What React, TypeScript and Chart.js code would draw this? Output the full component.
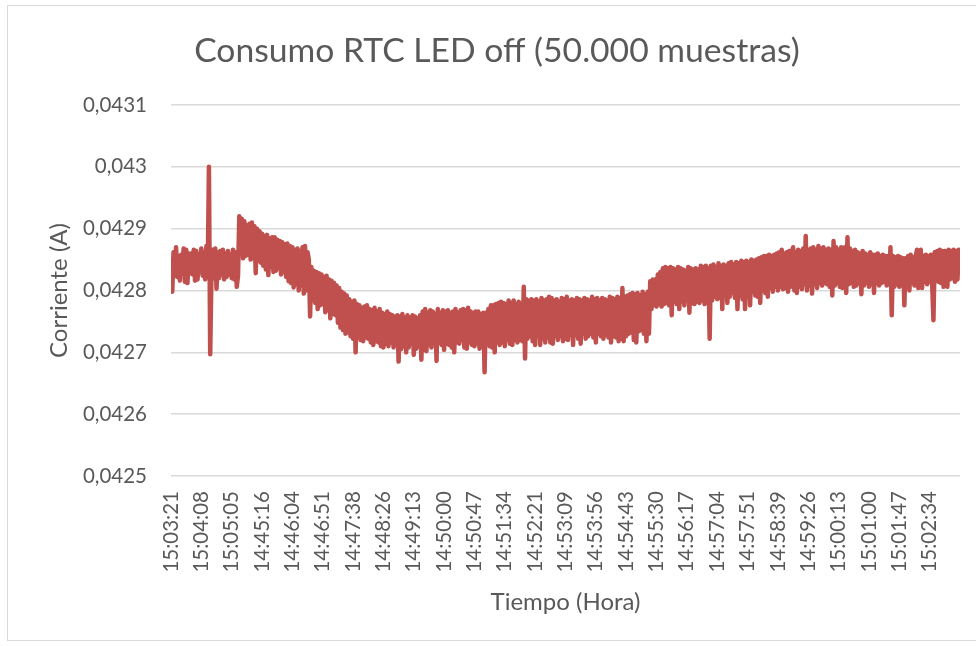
import { useEffect, useRef } from 'react';
import { Chart, registerables } from 'chart.js';

Chart.register(...registerables);

const chartTitle = 'Consumo RTC LED off (50.000 muestras)';
const yAxisTitle = 'Corriente (A)';
const xAxisTitle = 'Tiempo (Hora)';

const timeLabels = [
  '15:03:21', '15:04:08', '15:05:05', '14:45:16', '14:46:04', '14:46:51', '14:47:38',
  '14:48:26', '14:49:13', '14:50:00', '14:50:47', '14:51:34', '14:52:21', '14:53:09',
  '14:53:56', '14:54:43', '14:55:30', '14:56:17', '14:57:04', '14:57:51', '14:58:39',
  '14:59:26', '15:00:13', '15:01:00', '15:01:47', '15:02:34',
];

const yTickValues = [0.0425, 0.0426, 0.0427, 0.0428, 0.0429, 0.043, 0.0431];

// Corriente (A), muestras (orden temporal)
const corriente = [
  0.042848, 0.042798, 0.042862, 0.042824, 0.042870, 0.042822, 0.042856, 0.042816, 0.042858, 0.042830,
  0.042868, 0.042814, 0.042866, 0.042812, 0.042860, 0.042828, 0.042860, 0.042826, 0.042866, 0.042816,
  0.042864, 0.042818, 0.042858, 0.042830, 0.042868, 0.042824, 0.042862, 0.042818, 0.042872, 0.042822,
  0.043000, 0.042697, 0.042830, 0.042866, 0.042820, 0.042868, 0.042803, 0.042862, 0.042820, 0.042864,
  0.042826, 0.042866, 0.042818, 0.042860, 0.042822, 0.042864, 0.042826, 0.042858, 0.042820, 0.042866,
  0.042818, 0.042862, 0.042806, 0.042824, 0.042920, 0.042860, 0.042916, 0.042852, 0.042912, 0.042856,
  0.042905, 0.042858, 0.042908, 0.042850, 0.042910, 0.042852, 0.042904, 0.042828, 0.042900, 0.042848,
  0.042896, 0.042845, 0.042892, 0.042840, 0.042888, 0.042834, 0.042890, 0.042825, 0.042884, 0.042838,
  0.042886, 0.042830, 0.042886, 0.042832, 0.042882, 0.042836, 0.042880, 0.042826, 0.042878, 0.042830,
  0.042875, 0.042822, 0.042876, 0.042815, 0.042872, 0.042812, 0.042870, 0.042805, 0.042866, 0.042810,
  0.042868, 0.042800, 0.042864, 0.042808, 0.042870, 0.042795, 0.042872, 0.042800, 0.042862, 0.042850,
  0.042758, 0.042838, 0.042785, 0.042832, 0.042780, 0.042830, 0.042770, 0.042828, 0.042776, 0.042826,
  0.042778, 0.042822, 0.042765, 0.042824, 0.042768, 0.042818, 0.042755, 0.042816, 0.042762, 0.042812,
  0.042760, 0.042808, 0.042748, 0.042804, 0.042740, 0.042798, 0.042736, 0.042795, 0.042730, 0.042792,
  0.042732, 0.042786, 0.042726, 0.042782, 0.042722, 0.042784, 0.042700, 0.042778, 0.042725, 0.042776,
  0.042720, 0.042772, 0.042718, 0.042774, 0.042724, 0.042776, 0.042722, 0.042770, 0.042716, 0.042768,
  0.042712, 0.042772, 0.042718, 0.042766, 0.042716, 0.042770, 0.042710, 0.042764, 0.042708, 0.042762,
  0.042714, 0.042766, 0.042710, 0.042762, 0.042716, 0.042760, 0.042708, 0.042758, 0.042712, 0.042760,
  0.042685, 0.042758, 0.042705, 0.042762, 0.042710, 0.042756, 0.042700, 0.042760, 0.042708, 0.042756,
  0.042714, 0.042760, 0.042696, 0.042758, 0.042706, 0.042755, 0.042710, 0.042760, 0.042688, 0.042766,
  0.042704, 0.042770, 0.042702, 0.042764, 0.042712, 0.042768, 0.042708, 0.042766, 0.042716, 0.042762,
  0.042686, 0.042770, 0.042716, 0.042764, 0.042712, 0.042768, 0.042704, 0.042766, 0.042714, 0.042768,
  0.042712, 0.042764, 0.042708, 0.042766, 0.042700, 0.042770, 0.042716, 0.042764, 0.042714, 0.042768,
  0.042720, 0.042770, 0.042708, 0.042768, 0.042706, 0.042772, 0.042716, 0.042766, 0.042712, 0.042764,
  0.042710, 0.042766, 0.042714, 0.042766, 0.042706, 0.042762, 0.042710, 0.042764, 0.042668, 0.042764,
  0.042714, 0.042770, 0.042710, 0.042776, 0.042708, 0.042776, 0.042700, 0.042778, 0.042716, 0.042780,
  0.042712, 0.042782, 0.042716, 0.042780, 0.042710, 0.042778, 0.042720, 0.042784, 0.042714, 0.042780,
  0.042712, 0.042784, 0.042720, 0.042778, 0.042716, 0.042782, 0.042720, 0.042778, 0.042718, 0.042806,
  0.042690, 0.042786, 0.042722, 0.042784, 0.042726, 0.042786, 0.042718, 0.042784, 0.042712, 0.042786,
  0.042726, 0.042782, 0.042712, 0.042788, 0.042722, 0.042784, 0.042716, 0.042786, 0.042724, 0.042790,
  0.042716, 0.042788, 0.042714, 0.042784, 0.042726, 0.042786, 0.042720, 0.042782, 0.042726, 0.042788,
  0.042718, 0.042786, 0.042722, 0.042790, 0.042720, 0.042784, 0.042728, 0.042786, 0.042712, 0.042784,
  0.042728, 0.042788, 0.042722, 0.042786, 0.042714, 0.042784, 0.042730, 0.042788, 0.042722, 0.042786,
  0.042726, 0.042784, 0.042730, 0.042790, 0.042724, 0.042786, 0.042716, 0.042788, 0.042730, 0.042784,
  0.042726, 0.042788, 0.042722, 0.042786, 0.042728, 0.042784, 0.042724, 0.042790, 0.042716, 0.042788,
  0.042726, 0.042786, 0.042724, 0.042790, 0.042718, 0.042788, 0.042722, 0.042804, 0.042718, 0.042790,
  0.042726, 0.042792, 0.042730, 0.042794, 0.042732, 0.042796, 0.042720, 0.042794, 0.042716, 0.042796,
  0.042734, 0.042792, 0.042736, 0.042798, 0.042730, 0.042794, 0.042718, 0.042798, 0.042730, 0.042815,
  0.042770, 0.042818, 0.042776, 0.042818, 0.042774, 0.042826, 0.042778, 0.042830, 0.042774, 0.042836,
  0.042778, 0.042838, 0.042780, 0.042836, 0.042776, 0.042838, 0.042760, 0.042836, 0.042782, 0.042834,
  0.042778, 0.042838, 0.042770, 0.042836, 0.042782, 0.042834, 0.042776, 0.042832, 0.042784, 0.042838,
  0.042764, 0.042836, 0.042780, 0.042834, 0.042778, 0.042836, 0.042782, 0.042834, 0.042780, 0.042840,
  0.042784, 0.042838, 0.042778, 0.042840, 0.042782, 0.042836, 0.042722, 0.042840, 0.042784, 0.042842,
  0.042790, 0.042838, 0.042786, 0.042844, 0.042788, 0.042840, 0.042770, 0.042842, 0.042792, 0.042840,
  0.042780, 0.042844, 0.042790, 0.042846, 0.042796, 0.042842, 0.042788, 0.042846, 0.042770, 0.042844,
  0.042792, 0.042848, 0.042786, 0.042846, 0.042770, 0.042848, 0.042794, 0.042846, 0.042776, 0.042850,
  0.042798, 0.042848, 0.042792, 0.042850, 0.042790, 0.042852, 0.042780, 0.042854, 0.042800, 0.042856,
  0.042796, 0.042856, 0.042790, 0.042858, 0.042804, 0.042856, 0.042798, 0.042858, 0.042806, 0.042860,
  0.042800, 0.042862, 0.042806, 0.042866, 0.042802, 0.042860, 0.042804, 0.042862, 0.042798, 0.042864,
  0.042806, 0.042862, 0.042870, 0.042800, 0.042862, 0.042796, 0.042866, 0.042806, 0.042864, 0.042802,
  0.042868, 0.042810, 0.042888, 0.042800, 0.042866, 0.042808, 0.042868, 0.042795, 0.042870, 0.042810,
  0.042866, 0.042804, 0.042872, 0.042812, 0.042868, 0.042808, 0.042870, 0.042812, 0.042866, 0.042810,
  0.042868, 0.042806, 0.042866, 0.042792, 0.042880, 0.042808, 0.042870, 0.042812, 0.042866, 0.042806,
  0.042870, 0.042804, 0.042866, 0.042870, 0.042796, 0.042886, 0.042810, 0.042868, 0.042812, 0.042864,
  0.042806, 0.042866, 0.042808, 0.042862, 0.042812, 0.042860, 0.042794, 0.042864, 0.042808, 0.042860,
  0.042812, 0.042858, 0.042806, 0.042862, 0.042810, 0.042858, 0.042796, 0.042858, 0.042812, 0.042860,
  0.042808, 0.042856, 0.042812, 0.042858, 0.042814, 0.042856, 0.042808, 0.042856, 0.042810, 0.042870,
  0.042760, 0.042856, 0.042806, 0.042854, 0.042810, 0.042856, 0.042806, 0.042854, 0.042808, 0.042852,
  0.042776, 0.042852, 0.042808, 0.042856, 0.042800, 0.042858, 0.042812, 0.042854, 0.042808, 0.042856,
  0.042866, 0.042804, 0.042856, 0.042866, 0.042804, 0.042856, 0.042814, 0.042858, 0.042810, 0.042856,
  0.042814, 0.042858, 0.042810, 0.042752, 0.042862, 0.042816, 0.042864, 0.042814, 0.042866, 0.042812,
  0.042864, 0.042806, 0.042864, 0.042816, 0.042806, 0.042866, 0.042818, 0.042864, 0.042820, 0.042866,
  0.042814, 0.042864, 0.042818, 0.042866,
];

const TEXT_COLOR = '#595959';
const FONT = 'Lato, "Open Sans", sans-serif';

const framePlugin = {
  id: 'frame',
  beforeDraw(chart: any) {
    const ctx = chart.ctx;
    ctx.save();
    ctx.fillStyle = '#ffffff';
    ctx.fillRect(0, 0, chart.width, chart.height);
    ctx.strokeStyle = '#d9d9d9';
    ctx.lineWidth = 1;
    ctx.strokeRect(7.5, 5.5, chart.width, chart.height - 11);
    ctx.restore();
  },
};

export default function App() {
  const ref = useRef<HTMLCanvasElement>(null);

  useEffect(() => {
    const canvas = ref.current;
    if (!canvas) return;
    const N = corriente.length;
    const step = N / timeLabels.length;
    const chart = new Chart(canvas, {
      type: 'line',
      data: {
        datasets: [
          {
            data: corriente.map((v, i) => ({ x: i, y: v })),
            borderColor: '#C0504D',
            borderWidth: 4.5,
            pointRadius: 0,
            tension: 0,
            borderCapStyle: 'round',
            borderJoinStyle: 'round',
          },
        ],
      },
      options: {
        responsive: false,
        animation: false,
        layout: { padding: { left: 34, right: 16, top: 0, bottom: 0 } },
        plugins: {
          legend: { display: false },
          tooltip: { enabled: false },
          title: {
            display: true,
            text: chartTitle,
            color: TEXT_COLOR,
            font: { family: FONT, size: 33.7, weight: 'normal' },
            padding: { top: 30.6, bottom: 34 },
          },
        },
        scales: {
          x: {
            type: 'linear',
            min: 0,
            max: N,
            afterBuildTicks: (s: any) => {
              s.ticks = timeLabels.map((_, k) => ({ value: k * step }));
            },
            afterFit: (s: any) => {
              s.height = 170;
            },
            ticks: {
              autoSkip: false,
              minRotation: 90,
              maxRotation: 90,
              padding: 15,
              color: TEXT_COLOR,
              font: { family: FONT, size: 20.5 },
              callback: (v: any) => timeLabels[Math.round(Number(v) / step)] ?? '',
            },
            grid: { display: false, drawTicks: false },
            border: { display: false },
            title: {
              display: true,
              text: xAxisTitle,
              color: TEXT_COLOR,
              font: { family: FONT, size: 24 },
              padding: { top: 0, bottom: 29.6 },
            },
          },
          y: {
            min: 0.0425,
            max: 0.0431,
            afterBuildTicks: (s: any) => {
              s.ticks = yTickValues.map((v) => ({ value: v }));
            },
            afterFit: (s: any) => {
              s.width = 137;
            },
            ticks: {
              padding: 24,
              color: TEXT_COLOR,
              font: { family: FONT, size: 20.5 },
              callback: (v: any) => String(Number(Number(v).toFixed(4))).replace('.', ','),
            },
            grid: { color: '#d9d9d9', lineWidth: 1.5, drawTicks: false },
            border: { display: false },
            title: {
              display: true,
              text: yAxisTitle,
              color: TEXT_COLOR,
              font: { family: FONT, size: 24 },
              padding: { top: 10.6, bottom: 0 },
            },
          },
        },
      },
      plugins: [framePlugin],
    });
    return () => chart.destroy();
  }, []);

  return (
    <div style={{ position: 'absolute', left: 0, top: 0, width: 976, height: 646 }}>
      <canvas ref={ref} width={976} height={646} style={{ display: 'block' }} />
    </div>
  );
}
